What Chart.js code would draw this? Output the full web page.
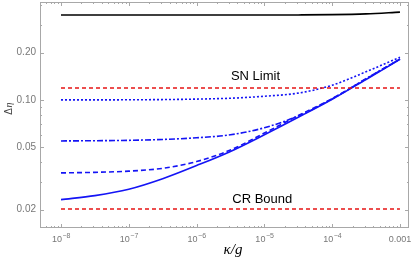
<!DOCTYPE html>
<html>
<head>
<meta charset="utf-8">
<script src="https://cdn.jsdelivr.net/npm/chart.js@4/dist/chart.umd.min.js"></script>
<style>
  html, body { margin: 0; padding: 0; background: #fff; }
  #wrap { width: 415px; height: 258px; }
</style>
</head>
<body>
<div id="wrap"><canvas id="chart"></canvas></div>
<script>
// kappa/g sample points (half decades)
const kappa = [1e-8, 3.16e-8, 1e-7, 3.16e-7, 1e-6, 3.16e-6, 1e-5, 3.16e-5, 1e-4, 3.16e-4, 1e-3];

const blackTop   = [0.347, 0.347, 0.347, 0.347, 0.347, 0.347, 0.347, 0.3475, 0.349, 0.353, 0.362];
const dotted     = [0.100, 0.100, 0.1002, 0.1005, 0.1012, 0.1025, 0.1055, 0.1105, 0.124, 0.151, 0.187];
const dashDot    = [0.0548, 0.055, 0.0553, 0.056, 0.0574, 0.060, 0.0665, 0.079, 0.1015, 0.1365, 0.182];
const dashed     = [0.0343, 0.0346, 0.0352, 0.0367, 0.0405, 0.048, 0.0615, 0.0795, 0.102, 0.136, 0.182];
const solid      = [0.0232, 0.0246, 0.027, 0.0315, 0.0382, 0.047, 0.060, 0.0775, 0.101, 0.135, 0.181];
const snLimit    = [0.119, 0.119];
const crBound    = [0.0202, 0.0202];
const limitX     = [1e-8, 1e-3];

const xTicks = [1e-8, 1e-7, 1e-6, 1e-5, 1e-4, 1e-3];
const xTickExp = ["\u22128", "\u22127", "\u22126", "\u22125", "\u22124", null];   // 10^exp, null -> plain "0.001"
const yTicks = [0.02, 0.05, 0.1, 0.2];
const yTickLabels = ["0.02", "0.05", "0.10", "0.20"];

const pts = (xs, ys) => xs.map((x, i) => ({ x: x, y: ys[i] }));

// minor tick positions for the frame
const xMinor = [];
for (let e = -9; e <= -3; e++) {
    for (let m = 1; m <= 9; m++) xMinor.push(m * Math.pow(10, e));
}
const yMinor = [0.01, 0.02, 0.03, 0.04, 0.05, 0.06, 0.07, 0.08, 0.09, 0.1, 0.2, 0.3, 0.4, 0.5];

const blue = "rgb(20, 20, 245)";
const red = "rgb(230, 20, 20)";
const tickGrey = "#777";

const frame = {
    id: "frame",
    afterDatasetsDraw(chart) {
        const ctx = chart.ctx;
        const a = chart.chartArea;
        const xs = chart.scales.x;
        const ys = chart.scales.y;
        ctx.save();
        ctx.strokeStyle = "#a8a8a8";
        ctx.lineWidth = 1;
        ctx.strokeRect(a.left + 0.5, a.top + 0.5, a.right - a.left - 1, a.bottom - a.top - 1);
        ctx.beginPath();
        xMinor.forEach((v) => {
            const px = xs.getPixelForValue(v);
            if (px < a.left + 1 || px > a.right - 1) return;
            const len = xTicks.some((t) => Math.abs(t - v) / t < 1e-6) ? 4 : 2;
            ctx.moveTo(Math.round(px) + 0.5, a.bottom);
            ctx.lineTo(Math.round(px) + 0.5, a.bottom - len);
            ctx.moveTo(Math.round(px) + 0.5, a.top);
            ctx.lineTo(Math.round(px) + 0.5, a.top + len);
        });
        yMinor.forEach((v) => {
            const py = ys.getPixelForValue(v);
            if (py < a.top + 1 || py > a.bottom - 1) return;
            const len = yTicks.some((t) => Math.abs(t - v) / t < 1e-6) ? 4 : 2;
            ctx.moveTo(a.left, Math.round(py) + 0.5);
            ctx.lineTo(a.left + len, Math.round(py) + 0.5);
            ctx.moveTo(a.right, Math.round(py) + 0.5);
            ctx.lineTo(a.right - len, Math.round(py) + 0.5);
        });
        ctx.stroke();

        // x tick labels with superscript exponents
        ctx.fillStyle = tickGrey;
        ctx.textBaseline = "alphabetic";
        const base = a.bottom + 14;
        xTicks.forEach((v, i) => {
            const px = xs.getPixelForValue(v);
            if (xTickExp[i] === null) {
                ctx.font = '9px "Liberation Sans", Arial, sans-serif';
                ctx.textAlign = "center";
                ctx.fillText("0.001", px, base);
                return;
            }
            ctx.font = '9px "Liberation Sans", Arial, sans-serif';
            const w1 = ctx.measureText("10").width;
            ctx.font = '7px "Liberation Sans", Arial, sans-serif';
            const w2 = ctx.measureText(xTickExp[i]).width;
            const x0 = px - (w1 + w2) / 2;
            ctx.textAlign = "left";
            ctx.font = '9px "Liberation Sans", Arial, sans-serif';
            ctx.fillText("10", x0, base);
            ctx.font = '7px "Liberation Sans", Arial, sans-serif';
            ctx.fillText(xTickExp[i], x0 + w1 + 0.5, base - 4);
        });

        // annotations
        ctx.fillStyle = "#000";
        ctx.font = '13px "Liberation Sans", Arial, sans-serif';
        ctx.textAlign = "center";
        ctx.textBaseline = "middle";
        ctx.fillText("SN Limit", xs.getPixelForValue(7.4e-6), ys.getPixelForValue(snLimit[0]) - 12);
        ctx.fillText("CR Bound", xs.getPixelForValue(9.3e-6), ys.getPixelForValue(crBound[0]) - 10);

        // axis titles
        ctx.font = 'italic 15px "Liberation Serif", "Times New Roman", serif';
        ctx.fillText("\u03BA/g", 233, 250);

        ctx.translate(9, 108);
        ctx.rotate(-Math.PI / 2);
        ctx.fillStyle = "#444";
        ctx.font = '10px "Liberation Sans", Arial, sans-serif';
        ctx.textAlign = "right";
        ctx.fillText("\u0394", 0, 0);
        ctx.font = 'italic 10px "Liberation Serif", serif';
        ctx.textAlign = "left";
        ctx.fillText("\u03B7", 0.5, 0);
        ctx.restore();
    },
};

const line = (data, color, dash) => ({
    data: data,
    borderColor: color,
    borderWidth: 1.6,
    borderDash: dash,
    pointRadius: 0,
    fill: false,
    cubicInterpolationMode: "monotone",
});

new Chart(document.getElementById("chart"), {
    type: "line",
    data: {
        datasets: [
            line(pts(kappa, blackTop), "#000", []),
            line(pts(limitX, snLimit), red, [4, 3]),
            line(pts(limitX, crBound), red, [4, 3]),
            line(pts(kappa, dotted), blue, [2, 2]),
            line(pts(kappa, dashDot), blue, [6, 2, 2, 2]),
            line(pts(kappa, dashed), blue, [5, 3]),
            line(pts(kappa, solid), blue, []),
        ],
    },
    options: {
        responsive: true,
        maintainAspectRatio: false,
        animation: false,
        layout: { padding: { top: 2, right: 6, left: 0, bottom: 0 } },
        plugins: {
            legend: { display: false },
            tooltip: { enabled: false },
        },
        scales: {
            x: {
                type: "logarithmic",
                min: 4.9e-9,
                max: 1.36e-3,
                afterFit: (s) => { s.height = 30; s.paddingLeft = 0; s.paddingRight = 0; },
                ticks: { display: false },
                grid: { display: false, drawTicks: false },
                border: { display: false },
            },
            y: {
                type: "logarithmic",
                min: 0.0153,
                max: 0.42,
                afterFit: (s) => { s.width = 40; s.paddingTop = 0; s.paddingBottom = 0; },
                afterBuildTicks: (s) => { s.ticks = yTicks.map((v) => ({ value: v })); },
                ticks: {
                    autoSkip: false,
                    padding: 4,
                    color: tickGrey,
                    font: { family: "Liberation Sans", size: 10 },
                    callback: (v) => yTickLabels[yTicks.findIndex((t) => Math.abs(t - v) / t < 1e-6)] || "",
                },
                grid: { display: false, drawTicks: false },
                border: { display: false },
            },
        },
    },
    plugins: [frame],
});
</script>
</body>
</html>
